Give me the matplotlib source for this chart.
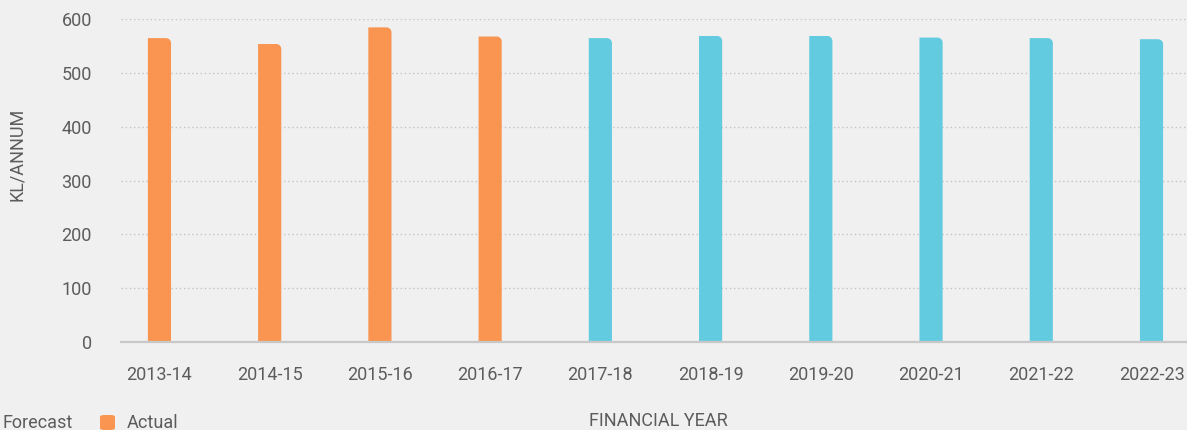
import matplotlib
matplotlib.use("Agg")
import matplotlib.pyplot as plt
from matplotlib.path import Path
from matplotlib.patches import PathPatch, FancyBboxPatch

# Annual volumes (KL/annum) by financial year
years = ["2013-14", "2014-15", "2015-16", "2016-17", "2017-18",
         "2018-19", "2019-20", "2020-21", "2021-22", "2022-23"]
actual_years = ["2013-14", "2014-15", "2015-16", "2016-17"]
actual_values = [565, 554, 585, 568]
forecast_years = ["2017-18", "2018-19", "2019-20", "2020-21", "2021-22", "2022-23"]
forecast_values = [565, 569, 569, 566, 565, 563]
y_ticks = [0, 100, 200, 300, 400, 500, 600]

ORANGE = "#F99550"
CYAN = "#63CBE0"
BG = "#F0F0F0"
TEXT = "#5C5C5C"
FONT = "Roboto"
FS = 13

W, H = 1187, 430
fig = plt.figure(figsize=(W / 100, H / 100), dpi=100, facecolor=BG)
ax = fig.add_axes([121 / W, 88 / H, 1 - 121 / W, (342 - 19.3) / H])
ax.set_facecolor(BG)

xpos = {y: i for i, y in enumerate(years)}
bar_w = 0.21


def rounded_bar(bar, color, r_px=5):
    """Replace a plain bar with one whose top-right corner is rounded."""
    x0 = bar.get_x()
    w = bar.get_width()
    h = bar.get_height()
    # radius converted to data units along each axis
    inv = ax.transData.inverted()
    p0 = inv.transform((0, 0))
    p1 = inv.transform((r_px, r_px))
    rx, ry = p1[0] - p0[0], p1[1] - p0[1]
    x1 = x0 + w
    k = 0.5523
    verts = [(x0, 0), (x0, h), (x1 - rx, h),
             (x1 - rx + k * rx, h), (x1, h - ry + k * ry), (x1, h - ry),
             (x1, 0), (x0, 0)]
    codes = [Path.MOVETO, Path.LINETO, Path.LINETO,
             Path.CURVE4, Path.CURVE4, Path.CURVE4,
             Path.LINETO, Path.CLOSEPOLY]
    bar.set_visible(False)
    ax.add_patch(PathPatch(Path(verts, codes), facecolor=color,
                           edgecolor="none", zorder=3))


ax.set_xlim(-0.349, 9.322)
ax.set_ylim(0, 600)

a_bars = ax.bar([xpos[y] for y in actual_years], actual_values, width=bar_w,
                color=ORANGE, zorder=3)
f_bars = ax.bar([xpos[y] for y in forecast_years], forecast_values, width=bar_w,
                color=CYAN, zorder=3)
for b in a_bars:
    rounded_bar(b, ORANGE)
for b in f_bars:
    rounded_bar(b, CYAN)

# dotted horizontal gridlines and solid baseline
ax.set_yticks(y_ticks)
ax.yaxis.grid(True, color="#C4C4C4", linestyle=(0, (1, 2)), linewidth=1, zorder=0)
ax.set_axisbelow(True)
ax.axhline(0, color="#C8C8C8", linewidth=1.6, zorder=4, clip_on=False)

for s in ax.spines.values():
    s.set_visible(False)

ax.set_xticks(range(len(years)))
ax.set_xticklabels(years)
ax.tick_params(axis="both", length=0, labelsize=FS, labelcolor=TEXT)
ax.tick_params(axis="x", pad=17)
ax.tick_params(axis="y", pad=21)
for lab in ax.get_xticklabels() + ax.get_yticklabels():
    lab.set_fontfamily(FONT)

# axis titles
fig.text(658 / W, (H - 426) / H, "FINANCIAL YEAR", ha="center", va="baseline",
         fontsize=FS, color=TEXT, family=FONT)
fig.text(17.5 / W, (H - 154) / H, "KL/ANNUM", ha="center", va="center",
         rotation=90, fontsize=FS, color=TEXT, family=FONT)

# legend
for x_sq, color, x_txt, label in [(-24, CYAN, 3, "Forecast"),
                                   (100, ORANGE, 127, "Actual")]:
    sq = FancyBboxPatch((x_sq / W, (H - 430) / H), 15 / W, 15 / H,
                        boxstyle="round,pad=0,rounding_size=0.004",
                        transform=fig.transFigure, facecolor=color,
                        edgecolor="none")
    fig.add_artist(sq)
    fig.text(x_txt / W, (H - 428) / H, label, ha="left", va="baseline",
             fontsize=FS, color=TEXT, family=FONT)

fig.savefig("out.png", dpi=100, facecolor=BG)
